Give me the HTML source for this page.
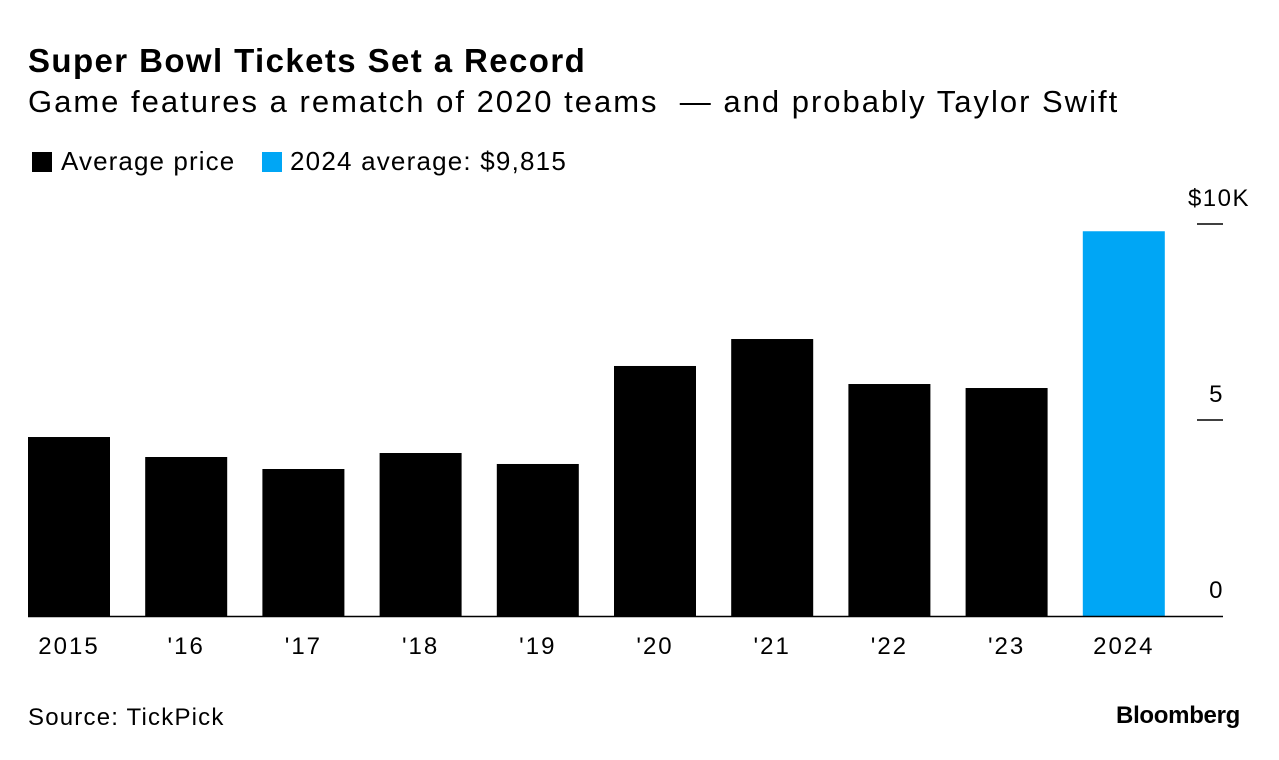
<!DOCTYPE html>
<html><head><meta charset="utf-8"><style>
body{margin:0;background:#fff;font-family:"Liberation Sans",Arial,sans-serif;}
#wrap{position:relative;width:1279px;height:760px;overflow:hidden;}
.t{position:absolute;white-space:nowrap;color:#000;}
</style></head><body>
<div id="wrap">
<div class="t" style="left:28px;top:42px;font-size:33px;font-weight:bold;letter-spacing:1.4px">Super Bowl Tickets Set a Record</div>
<div class="t" style="left:28px;top:84px;font-size:31px;letter-spacing:2px">Game features a rematch of 2020 teams&nbsp; — and probably Taylor Swift</div>
<div class="t" style="left:32px;top:146px;font-size:26px;letter-spacing:1.1px"><span style="display:inline-block;width:20px;height:20px;background:#000;vertical-align:-2px;margin-right:9px"></span>Average price</div>
<div class="t" style="left:262px;top:146px;font-size:26px;letter-spacing:1.2px"><span style="display:inline-block;width:20px;height:20px;background:#00a6f5;vertical-align:-2px;margin-right:8px"></span>2024 average: $9,815</div>
<svg id="chart" width="1279" height="760" style="position:absolute;left:0;top:0"></svg>
<div class="t" style="left:28px;top:704px;font-size:24px;letter-spacing:1.2px">Source: TickPick</div>
<div class="t" style="right:39px;top:702px;font-size:24px;font-weight:bold;letter-spacing:-0.3px">Bloomberg</div>
</div>
<script>
const categories=["2015","'16","'17","'18","'19","'20","'21","'22","'23","2024"];
const values=[4566,4056,3750,4158,3878,6378,7066,5918,5816,9815];
const tickValues=[0,5000,10000];
const tickLabels=["0","5","$10K"];
const NS="http://www.w3.org/2000/svg";
const svg=document.getElementById('chart');
const base=616, pxPer=392/10000, x0=28, step=117.2, bw=82;
const y=v=>base-v*pxPer;
const x=i=>x0+i*step;
function mk(t,a){const e=document.createElementNS(NS,t);for(const k in a)e.setAttribute(k,a[k]);svg.appendChild(e);return e;}
values.forEach((v,i)=>{
  const r=mk('rect',{x:x(i),y:y(v),width:bw,height:base-y(v),fill:i===values.length-1?'#00a6f5':'#000'});
  
  
  const t=mk('text',{x:x(i)+bw/2,y:654,'text-anchor':'middle','font-size':24,'letter-spacing':2,'font-family':'Liberation Sans, Arial, sans-serif'});
  t.textContent=categories[i];
  
  
});
tickValues.forEach((v,i)=>{
  if(v>0){const l=mk('line',{x1:1197,x2:1223,y1:y(v),y2:y(v),stroke:'#000','stroke-width':1.5});
  
  }
  const t=mk('text',{x:v===10000?1250:1224,y:y(v)-18,'text-anchor':'end','font-size':24,'letter-spacing':1.5,'font-family':'Liberation Sans, Arial, sans-serif'});
  t.textContent=tickLabels[i];
  
  
});
const ax=mk('line',{x1:28,x2:1223,y1:base+0.5,y2:base+0.5,stroke:'#000','stroke-width':1.5});


</script>
</body></html>
